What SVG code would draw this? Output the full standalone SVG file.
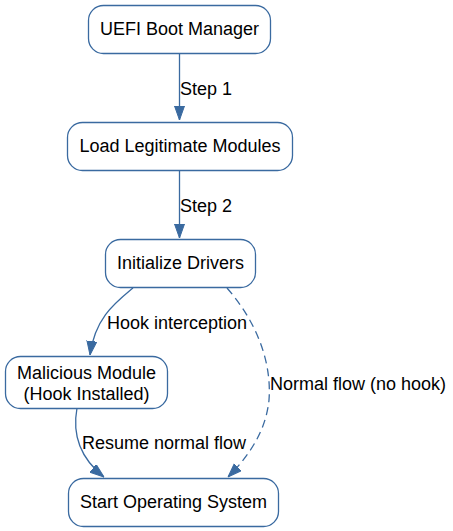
<svg xmlns="http://www.w3.org/2000/svg" width="453" height="531" viewBox="0 0 453 531">
<style>
.n{fill:#fff;stroke:#3a6aa0;stroke-width:1.3}
.t{font-family:"Liberation Sans",Arial,sans-serif;font-size:18px;fill:#000}
.c{text-anchor:middle}
.e{fill:none;stroke:#3a6aa0;stroke-width:1.3}
.d{stroke-dasharray:8,5}
</style>
<defs>
<marker id="a" markerUnits="userSpaceOnUse" markerWidth="14" markerHeight="12" refX="14" refY="5" orient="auto">
<path d="M0,0 L14,5 L0,10 Z" fill="#3a6aa0" stroke="#3a6aa0"/>
</marker>
</defs>
<g id="edges">
<path class="e" d="M179.5,53 L179.5,120" marker-end="url(#a)"/>
<text class="t" x="180" y="95">Step 1</text>
<path class="e" d="M179.5,170 L179.5,238" marker-end="url(#a)"/>
<text class="t" x="180" y="212">Step 2</text>
<path class="e" d="M133,288 C115,303 95,318 90,355" marker-end="url(#a)"/>
<text class="t" x="107" y="329">Hook interception</text>
<path class="e d" d="M227,288 C255,320 272,360 269,400 C266,430 250,455 228,477" marker-end="url(#a)"/>
<text class="t" x="270" y="390">Normal flow (no hook)</text>
<path class="e" d="M77,408 C72,435 80,458 104,477" marker-end="url(#a)"/>
<text class="t" x="82" y="449">Resume normal flow</text>
</g>
<g id="uefi">
<rect class="n" x="88.5" y="5.5" width="182" height="48" rx="15"/>
<text class="t c" x="179.5" y="35">UEFI Boot Manager</text>
</g>
<g id="load">
<rect class="n" x="67.5" y="122.5" width="225" height="48" rx="15"/>
<text class="t c" x="180" y="152">Load Legitimate Modules</text>
</g>
<g id="init">
<rect class="n" x="105.5" y="239.5" width="150" height="48" rx="15"/>
<text class="t c" x="180.5" y="269">Initialize Drivers</text>
</g>
<g id="malicious">
<rect class="n" x="5.5" y="356.5" width="162" height="52" rx="15"/>
<text class="t c" x="86.5" y="379">Malicious Module</text>
<text class="t c" x="86.5" y="400">(Hook Installed)</text>
</g>
<g id="os">
<rect class="n" x="68.5" y="478.5" width="210" height="48" rx="15"/>
<text class="t c" x="173.5" y="508">Start Operating System</text>
</g>
</svg>
